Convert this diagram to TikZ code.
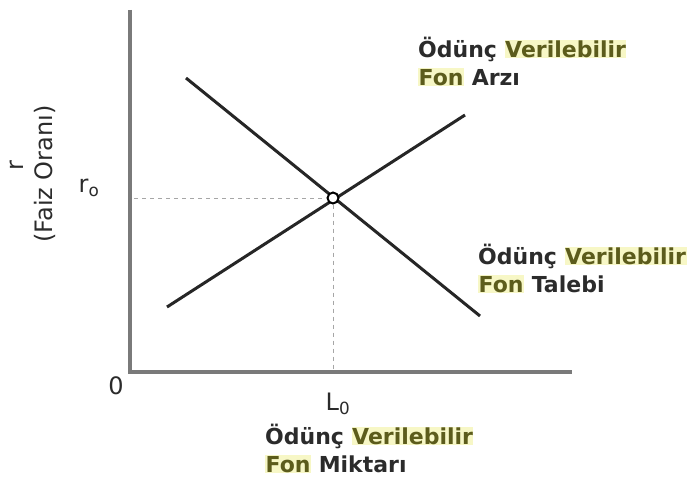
\documentclass[tikz,border=0pt]{standalone}
\usepackage{fontspec}
\setmainfont{DejaVu Sans}
\usetikzlibrary{positioning}
\definecolor{axisgray}{HTML}{7A7A7A}
\definecolor{oliveword}{HTML}{5C5C1C}
\definecolor{hlyellow}{HTML}{F7F7C6}
\definecolor{textgray}{HTML}{2B2B2B}
\newcommand{\hlword}[1]{{\setlength{\fboxsep}{0.5pt}\colorbox{hlyellow}{\color{oliveword}#1}}}
\begin{document}
\begin{tikzpicture}[x=1pt,y=-1pt,
		axis/.style={line width=4.5pt, axisgray},
		curve/.style={line width=3pt, black!85},
		guide/.style={line width=1pt, gray!70, dash pattern=on 4pt off 4pt},
		lbl/.style={font=\bfseries\fontsize{22}{28}\selectfont, text=textgray, align=left, inner sep=0pt, anchor=base west},
		tick/.style={font=\fontsize{24}{28}\selectfont, text=textgray, inner sep=0pt}]
		\useasboundingbox (0,0) rectangle (690,487);
		
		% Draw the axes
		\coordinate (ytop) at (130,10);
		\coordinate (origin) at (130,372);
		\coordinate (xend) at (572,372);
		\draw[axis] (ytop) -- (origin) -- (xend);
		
		% Draw the supply and demand lines
		\coordinate (sstart) at (167,307);
		\coordinate (send) at (465,115);
		\coordinate (dstart) at (186,78);
		\coordinate (dend) at (480,316);
		\draw[curve] (sstart) -- (send);
		\draw[curve] (dstart) -- (dend);
		
		% Equilibrium point and guide lines
		\coordinate (rmark) at (134,198);
		\coordinate (lmark) at (333,370);
		\node[circle, draw=black, line width=2pt, fill=white, inner sep=0pt, minimum size=11pt] (eq) at (333,198) {};
		\draw[guide] (rmark) -- (eq);
		\draw[guide] (eq) -- (lmark);
		
		% Axis labels
		\node[tick, rotate=90] (rlabel) at (17,166) {r};
		\node[tick, rotate=90] (rname) at (45,174) {(Faiz Oranı)};
		\node[tick] (rzero) at (89,188) {r\textsubscript{o}};
		\node[tick] (zero) at (116,386) {0};
		\node[tick] (lzero) at (338,404) {L\textsubscript{0}};
		
		% Curve labels
		\node[lbl] (supply) at (418,85) {Ödünç \hlword{Verilebilir}\\\hlword{Fon} Arzı};
		\node[lbl] (demand) at (478,292) {Ödünç \hlword{Verilebilir}\\\hlword{Fon} Talebi};
		\node[lbl] (quantity) at (265,472) {Ödünç \hlword{Verilebilir}\\\hlword{Fon} Miktarı};
	\end{tikzpicture}
\end{document}
